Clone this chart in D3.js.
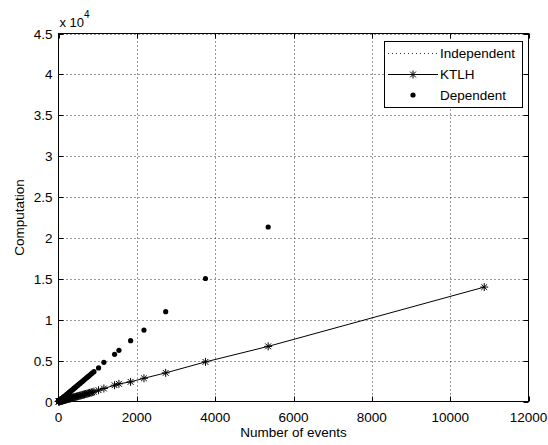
<!DOCTYPE html>
<html lang="en">
<head>
<meta charset="utf-8">
<title>computation vs events</title>
<script src="https://d3js.org/d3.v7.min.js"></script>
<style>
  body { margin:0; background:#fff; }
  svg { display:block; }
  text { font-family: "Liberation Sans", Arial, sans-serif; fill:#000; }
  .tick-label { font-size: 13.5px; }
  .grid line { stroke:#333; stroke-width:1; stroke-dasharray:1,3; }
</style>
</head>
<body>
<div id="chart"></div>
<script>
var events    = [10870, 5353, 3752, 2737, 2182, 1841, 1543, 1432, 1159, 1023, 905, 862, 830, 795, 760, 728, 695, 664, 632, 604, 575, 548, 520, 494, 468, 442, 418, 395, 372, 350, 329, 308, 288, 268, 250, 232, 215, 198, 182, 167, 152, 138, 125, 112, 100, 88, 77, 67, 57, 48, 40, 32, 25, 19, 13, 8, 4];
var ktlh      = [13990, 6740, 4840, 3500, 2840, 2400, 2160, 1990, 1590, 1380, 1200, 1140, 1095, 1050, 1000, 960, 915, 875, 830, 795, 755, 720, 685, 650, 615, 580, 550, 520, 490, 460, 432, 405, 378, 352, 328, 305, 282, 260, 239, 219, 200, 181, 164, 147, 131, 115, 101, 88, 75, 63, 52, 42, 33, 25, 17, 10, 5];
var dependent = [43500, 21340, 15040, 10980, 8740, 7440, 6260, 5770, 4790, 4110, 3650, 3480, 3350, 3210, 3070, 2940, 2810, 2680, 2550, 2440, 2320, 2210, 2100, 1995, 1890, 1785, 1690, 1595, 1500, 1415, 1330, 1245, 1165, 1085, 1010, 940, 870, 800, 735, 675, 615, 560, 505, 455, 405, 355, 312, 270, 230, 194, 162, 130, 101, 77, 53, 32, 16];
var xTicks = [0, 2000, 4000, 6000, 8000, 10000, 12000];
var yTicks = [0, 5000, 10000, 15000, 20000, 25000, 30000, 35000, 40000, 45000];
var legendNames = ["Independent", "KTLH", "Dependent"];

var W = 548, H = 445;
var pL = 58.5, pR = 528.5, pT = 33.5, pB = 401.5;

var x = d3.scaleLinear().domain([0, 12000]).range([pL, pR]);
var y = d3.scaleLinear().domain([0, 45000]).range([pB, pT]);

var svg = d3.select("#chart").append("svg")
  .attr("width", W).attr("height", H);

// grid
var grid = svg.append("g").attr("class", "grid");
grid.selectAll("line.gx").data(xTicks.slice(1, -1)).enter().append("line")
  .attr("x1", function(d) { return Math.round(x(d)) + 0.5; })
  .attr("x2", function(d) { return Math.round(x(d)) + 0.5; })
  .attr("y1", pT).attr("y2", pB);
grid.selectAll("line.gy").data(yTicks.slice(1)).enter().append("line")
  .attr("y1", function(d) { return Math.round(y(d)) + 0.5; })
  .attr("y2", function(d) { return Math.round(y(d)) + 0.5; })
  .attr("x1", pL).attr("x2", pR);

// data
var pts = events.map(function(e, i) { return { e: e, k: ktlh[i], d: dependent[i] }; });

svg.append("path")
  .datum(pts)
  .attr("fill", "none").attr("stroke", "#000").attr("stroke-width", 1)
  .attr("d", d3.line().x(function(p) { return x(p.e); }).y(function(p) { return y(p.k); }));

function star(g, cx, cy) {
  var r = 4, s = 2.9;
  g.append("path")
    .attr("d", "M" + (cx - r) + "," + cy + "H" + (cx + r) +
               "M" + cx + "," + (cy - r) + "V" + (cy + r) +
               "M" + (cx - s) + "," + (cy - s) + "L" + (cx + s) + "," + (cy + s) +
               "M" + (cx - s) + "," + (cy + s) + "L" + (cx + s) + "," + (cy - s))
    .attr("stroke", "#000").attr("stroke-width", 1).attr("fill", "none");
}
var stars = svg.append("g");
pts.forEach(function(p) { star(stars, x(p.e), y(p.k)); });

svg.append("g").selectAll("circle").data(pts).enter().append("circle")
  .attr("cx", function(p) { return x(p.e); })
  .attr("cy", function(p) { return y(p.d); })
  .attr("r", 2.6).attr("fill", "#000");

// axes box + inward ticks
var ax = svg.append("g").attr("stroke", "#000").attr("stroke-width", 1);
ax.append("rect").attr("x", pL).attr("y", pT)
  .attr("width", pR - pL).attr("height", pB - pT).attr("fill", "none");
xTicks.forEach(function(t) {
  var px = Math.round(x(t)) + 0.5;
  ax.append("line").attr("x1", px).attr("x2", px).attr("y1", pB).attr("y2", pB - 5);
  ax.append("line").attr("x1", px).attr("x2", px).attr("y1", pT).attr("y2", pT + 5);
});
yTicks.forEach(function(t) {
  var py = Math.round(y(t)) + 0.5;
  ax.append("line").attr("y1", py).attr("y2", py).attr("x1", pL).attr("x2", pL + 5);
  ax.append("line").attr("y1", py).attr("y2", py).attr("x1", pR).attr("x2", pR - 5);
});

// tick labels
svg.append("g").selectAll("text").data(xTicks).enter().append("text")
  .attr("class", "tick-label")
  .attr("x", function(d) { return x(d); })
  .attr("y", pB + 20)
  .attr("text-anchor", "middle")
  .text(function(d) { return d; });
svg.append("g").selectAll("text").data(yTicks).enter().append("text")
  .attr("class", "tick-label")
  .attr("x", pL - 6)
  .attr("y", function(d) { return y(d) + 5; })
  .attr("text-anchor", "end")
  .text(function(d) { return d / 10000; });

// exponent
var ex = svg.append("text").attr("x", pL + 1).attr("y", 27).style("font-size", "13px");
ex.append("tspan").text("x 10");
ex.append("tspan").attr("dy", -9).style("font-size", "10px").text("4");

// axis titles
svg.append("text").attr("x", (pL + pR) / 2).attr("y", 437)
  .attr("text-anchor", "middle").style("font-size", "13.5px").text("Number of events");
svg.append("text").attr("transform", "translate(24," + ((pT + pB) / 2) + ") rotate(-90)")
  .attr("text-anchor", "middle").style("font-size", "13.5px").text("Computation");

// legend
var lg = svg.append("g");
lg.append("rect").attr("x", 384.5).attr("y", 41.5).attr("width", 138).attr("height", 66)
  .attr("fill", "#fff").attr("stroke", "#000").attr("stroke-width", 1);
var rows = [53, 74, 95];
lg.append("line").attr("x1", 388).attr("x2", 438).attr("y1", rows[0] + 0.5).attr("y2", rows[0] + 0.5)
  .attr("stroke", "#333").attr("stroke-dasharray", "1,3");
lg.append("line").attr("x1", 388).attr("x2", 438).attr("y1", rows[1] + 0.5).attr("y2", rows[1] + 0.5)
  .attr("stroke", "#000");
star(lg, 413, rows[1] + 0.5);
lg.append("circle").attr("cx", 413).attr("cy", rows[2]).attr("r", 2.6).attr("fill", "#000");
lg.selectAll("text.lt").data(legendNames).enter().append("text")
  .attr("x", 440).attr("y", function(d, i) { return rows[i] + 5; })
  .style("font-size", "13.5px").text(function(d) { return d; });
</script>
</body>
</html>
